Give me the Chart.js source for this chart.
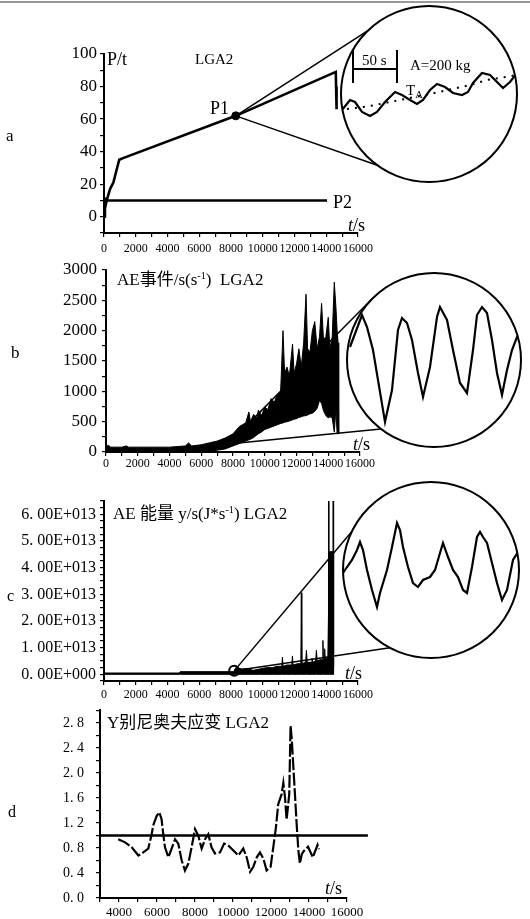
<!DOCTYPE html>
<html>
<head>
<meta charset="utf-8">
<script src="https://cdn.jsdelivr.net/npm/chart.js@4.4.1/dist/chart.umd.min.js"></script>
<style>
  html, body { margin: 0; padding: 0; background: #fff; }
  body { position: relative; width: 530px; height: 919px; overflow: hidden;
         font-family: "Liberation Serif", "DejaVu Serif", "Noto Sans CJK SC", serif; color: #000; }
  canvas { position: absolute; }
  .txt { position: absolute; white-space: nowrap; line-height: 1; }
  .topline { position: absolute; left: 0; top: 1px; width: 530px; height: 2px; background: #999; }
  sup { font-size: 0.6em; vertical-align: 0.6em; line-height: 0; }
  sub { font-size: 0.7em; vertical-align: -0.25em; line-height: 0; }
</style>
</head>
<body>
<div class="topline"></div>
<canvas id="chartA"></canvas>
<canvas id="chartB"></canvas>
<canvas id="chartC"></canvas>
<canvas id="chartD"></canvas>
<canvas id="insetA"></canvas>
<canvas id="insetB"></canvas>
<canvas id="insetC"></canvas>

<div class="txt" style="left:6px;top:127px;font-size:17px;">a</div>
<div class="txt" style="left:107px;top:50px;font-size:18px;">P/t</div>
<div class="txt" style="left:195px;top:52px;font-size:15px;">LGA2</div>
<div class="txt" style="left:210px;top:99px;font-size:18px;">P1</div>
<div class="txt" style="left:333px;top:193px;font-size:18px;">P2</div>
<div class="txt" style="left:348px;top:216px;font-size:18px;"><i>t</i>/s</div>
<div class="txt" style="left:362px;top:53px;font-size:15px;">50 s</div>
<div class="txt" style="left:410px;top:58px;font-size:15px;">A=200 kg</div>
<div class="txt" style="left:406px;top:83px;font-size:15px;">T<sub>A</sub></div>

<div class="txt" style="left:11px;top:344px;font-size:17px;">b</div>
<div class="txt" style="left:117px;top:271px;font-size:17px;">AE事件/s(s<sup>-1</sup>) &nbsp;LGA2</div>
<div class="txt" style="left:353px;top:435px;font-size:18px;"><i>t</i>/s</div>

<div class="txt" style="left:7px;top:588px;font-size:16px;">c</div>
<div class="txt" style="left:113px;top:505px;font-size:17px;">AE 能量 y/s(J*s<sup>-1</sup>) LGA2</div>
<div class="txt" style="left:345px;top:664px;font-size:18px;"><i>t</i>/s</div>

<div class="txt" style="left:8px;top:804px;font-size:16px;">d</div>
<div class="txt" style="left:107px;top:714px;font-size:17px;">Y别尼奥夫应变 LGA2</div>
<div class="txt" style="left:325px;top:879px;font-size:18px;"><i>t</i>/s</div>

<script>
const PAGE_W = 530;

// ---- a: load (t) against time (s)
const p1Time = [0, 60, 170, 380, 590, 800, 960, 1200, 8300, 14600, 14620, 14650];
const p1Load = [0, 5, 10, 17, 21, 29, 35, 36, 62, 89, 80, 66];
const p2Time = [0, 14050];
const p2Load = [10, 10];
const p1Mark = [8300, 62];

// inset a: offsets from the circle centre, load wave and its trend
const insetATime = [-87, -79, -74, -67, -59, -52, -44, -34, -27, -19, -12, -6, 1, 8, 16, 24, 33, 39, 44, 53, 61, 68, 74, 81, 88];
const insetALoad = [-16, -6, -8, -18, -22, -18, -8, 2, -1, -6, -10, -6, 4, 10, 7, 1, -1, 2, 11, 21, 19, 12, 6, 12, 21];
const insetATrendTime = [-82, -59, -39, -19, 1, 28, 41, 58, 88];
const insetATrend = [-15, -12, -8, -4, 0, 6, 9, 14, 19];
const scaleBarX = [-76, -32];
const scaleBarY = [11, 25, 44];

// ---- b: AE events per second, upper / lower edge of the dense trace
const bTime = [0, 150, 300, 1000, 1300, 1400, 2000, 3000, 4000, 5000,
  5200, 5400, 6000, 6500, 7000, 7500, 8000, 8400, 8800, 9000,
  9100, 9300, 9500, 9600, 9800, 10000, 10200, 10400, 10600, 10800,
  11000, 11150, 11250, 11400, 11550, 11750, 11850, 12000, 12150, 12300,
  12450, 12600, 12700, 12850, 13000, 13150, 13300, 13450, 13580, 13700,
  13850, 14000, 14100, 14250, 14380, 14480, 14560, 14620, 14660];
const bUpper = [90, 110, 80, 80, 100, 80, 80, 80, 80, 100,
  150, 100, 120, 150, 180, 230, 300, 420, 480, 660,
  500, 620, 560, 690, 600, 740, 700, 880, 820, 950,
  1000, 2000, 1300, 1400, 1250, 1780, 1300, 1450, 1700, 1400,
  1800, 2600, 1700, 1650, 2000, 2150, 1700, 1900, 2450, 1850,
  1900, 2220, 1700, 1900, 2800, 2400, 2000, 1800, 300];
const bLower = [0, 0, 0, 0, 0, 0, 0, 0, 0, 0,
  0, 0, 0, 10, 30, 50, 100, 140, 180, 200,
  210, 240, 280, 300, 330, 370, 390, 410, 430, 450,
  470, 480, 490, 500, 510, 530, 540, 550, 570, 580,
  595, 600, 610, 630, 640, 670, 720, 850, 800, 680,
  600, 560, 580, 560, 330, 700, 300, 300, 300];
const bLinkFrom = [7700, 130];

const insetBTime = [-84, -72, -67, -61, -56, -49, -42, -36, -32, -27, -22, -16, -11, -4, 3, 6, 13, 19, 26, 33, 39, 43, 48, 53, 58, 63, 68, 73, 78, 83, 87];
const insetBValue = [13, 45, 33, 10, -20, -62, -30, 30, 42, 37, 20, -13, -37, -7, 43, 53, 40, 10, -23, -33, 10, 45, 53, 47, 20, -13, -35, -10, 10, 23, 20];

// ---- c: AE energy (J/s)
const cTime = [0, 4750, 4800, 8200, 8300, 8700, 9000, 9400, 9800, 10200,
  10600, 10900, 11200, 11240, 11280, 11500, 11830, 11870, 11910, 12200,
  12400, 12430, 12460, 12700, 12750, 12800, 13050, 13100, 13150, 13330,
  13380, 13430, 13600, 13760, 13790, 13820, 13870, 13900, 13930, 14100,
  14200, 14440, 14460];
const cUpper = [0.05e13, 0.05e13, 0.1e13, 0.1e13, 0.25e13, 0.2e13, 0.22e13, 0.15e13, 0.2e13, 0.25e13,
  0.25e13, 0.3e13, 0.3e13, 0.65e13, 0.3e13, 0.35e13, 0.35e13, 0.69e13, 0.35e13, 0.4e13,
  0.4e13, 3.06e13, 0.4e13, 0.45e13, 0.9e13, 0.45e13, 0.45e13, 0.6e13, 0.45e13, 0.5e13,
  0.9e13, 0.5e13, 0.55e13, 0.55e13, 1.27e13, 0.55e13, 0.6e13, 0.96e13, 0.6e13, 0.6e13,
  4.6e13, 4.6e13, 0];
const cLower = cTime.map(() => 0);
const cSpikeTime = [14150, 14160, 14440, 14450];
const cSpikeValue = [0.3e13, 7e13, 7e13, 0.3e13];
const cMark = [8200, 0.13e13];

const insetCTime = [-88, -84, -79, -74, -71, -68, -64, -59, -54, -51, -44, -39, -34, -31, -28, -23, -18, -13, -8, -1, 4, 9, 12, 17, 22, 27, 32, 36, 41, 46, 49, 52, 56, 61, 66, 71, 76, 82, 87, 91];
const insetCValue = [-3, 3, 10, 20, 28, 20, 0, -20, -37, -23, 0, 23, 47, 40, 23, 3, -13, -17, -10, -7, 0, 17, 27, 13, 0, -7, -20, -23, 3, 33, 38, 33, 27, 7, -13, -30, -20, 10, 18, 20];

// ---- d: Benioff strain
const dTime = [3960, 4320, 4670, 5020, 5280, 5540, 5720, 5800, 5980, 6120,
  6240, 6330, 6420, 6600, 6770, 6950, 7120, 7300, 7470, 7650,
  7820, 8000, 8170, 8350, 8530, 8700, 8870, 9050, 9320, 9530,
  9750, 10020, 10280, 10540, 10720, 10900, 11070, 11250, 11420, 11600,
  11770, 11980, 12120, 12260, 12380, 12560, 12650, 12740, 12820, 12960,
  13030, 13090, 13170, 13260, 13350, 13440, 13520, 13620, 13720, 13950,
  14200, 14450, 14520];
const dStrain = [0.94, 0.89, 0.81, 0.68, 0.73, 0.79, 1.02, 1.16, 1.31, 1.37,
  1.26, 1.02, 0.81, 0.65, 0.79, 0.94, 0.87, 0.60, 0.44, 0.55,
  0.81, 1.10, 1.00, 0.79, 0.94, 1.02, 0.81, 0.71, 0.73, 0.87,
  0.84, 0.76, 0.68, 0.79, 0.65, 0.42, 0.50, 0.65, 0.73, 0.63,
  0.44, 0.50, 0.81, 1.13, 1.50, 1.66, 1.84, 1.60, 1.25, 1.66,
  2.75, 2.55, 2.13, 1.66, 1.18, 0.76, 0.55, 0.70, 0.75, 0.82,
  0.65, 0.85, 0.78];
const dRefTime = [3000, 17100];
const dRefValue = [1, 1];

// ---------- layout
const panelA = { id: 'chartA', top: 20, height: 250, area: { left: 104, right: 358, top: 54, bottom: 233 } };
const panelB = { id: 'chartB', top: 240, height: 240, area: { left: 106, right: 360, top: 270, bottom: 452 } };
const panelC = { id: 'chartC', top: 480, height: 220, area: { left: 104, right: 358, top: 501, bottom: 681 } };
const panelD = { id: 'chartD', top: 690, height: 229, area: { left: 100, right: 347, top: 708, bottom: 898 } };

const circleA = { cx: 429, cy: 94, r: 88 };
const circleB = { cx: 434, cy: 360, r: 87 };
const circleC = { cx: 431, cy: 570, r: 88 };

function pts(xs, ys) {
    return xs.map((x, i) => ({ x: x, y: ys[i] }));
}

function setupCanvas(id, left, top, w, h) {
    const c = document.getElementById(id);
    c.width = w; c.height = h;
    c.style.left = left + 'px'; c.style.top = top + 'px';
    c.style.width = w + 'px'; c.style.height = h + 'px';
    return c;
}

function axis(extra) {
    return Object.assign({
        type: 'linear',
        border: { display: true, color: '#000', width: 2 },
        grid: { drawOnChartArea: false, drawTicks: true, tickLength: 4, color: '#000', lineWidth: 1.2 }
    }, extra);
}

function mainOptions(p, x, y) {
    return {
        responsive: false,
        animation: false,
        events: [],
        layout: { padding: { top: p.area.top - p.top, right: PAGE_W - p.area.right, bottom: 0, left: 0 } },
        plugins: { legend: { display: false }, tooltip: { enabled: false } },
        elements: { line: { tension: 0, borderColor: '#000' }, point: { radius: 0 } },
        scales: {
            x: axis({
                min: x.min, max: x.max,
                afterFit: s => { s.height = p.top + p.height - p.area.bottom; },
                ticks: { stepSize: x.step, autoSkip: false, maxRotation: 0, minRotation: 0, includeBounds: false,
                    padding: x.pad, color: '#000', font: { family: 'Liberation Serif', size: x.size }, callback: x.label }
            }),
            y: axis({
                min: y.min, max: y.max,
                afterFit: s => { s.width = p.area.left; },
                ticks: { stepSize: y.step, autoSkip: false, includeBounds: false,
                    padding: y.pad, color: '#000', font: { family: 'Liberation Serif', size: y.size }, callback: y.label }
            })
        }
    };
}

// straight lines from a data point to the magnifier circle
function linkPlugin(p, from, circle, angles) {
    return {
        id: 'links',
        afterDatasetsDraw(chart) {
            const { ctx, scales } = chart;
            const sx = scales.x.getPixelForValue(from[0]);
            const sy = scales.y.getPixelForValue(from[1]);
            ctx.save();
            ctx.strokeStyle = '#000';
            ctx.lineWidth = 1.5;
            angles.forEach(a => {
                const t = a * Math.PI / 180;
                ctx.beginPath();
                ctx.moveTo(sx, sy);
                ctx.lineTo(circle.cx + circle.r * Math.cos(t), circle.cy + circle.r * Math.sin(t) - p.top);
                ctx.stroke();
            });
            ctx.restore();
        }
    };
}

function everyOther(v) { return v % 2000 === 0 ? String(v) : ''; }

// ---------- a
setupCanvas(panelA.id, 0, panelA.top, PAGE_W, panelA.height);
new Chart(document.getElementById(panelA.id), {
    type: 'line',
    data: {
        datasets: [
            { data: pts(p1Time, p1Load), borderWidth: 2.6 },
            { data: pts(p2Time, p2Load), borderWidth: 2.6 },
            { data: [{ x: p1Mark[0], y: p1Mark[1] }], showLine: false, pointRadius: 4, backgroundColor: '#000', borderColor: '#000' },
            { data: [{ x: 0, y: 10 }], showLine: false, pointRadius: 3, backgroundColor: '#000', borderColor: '#000' }
        ]
    },
    options: mainOptions(panelA,
        { min: 0, max: 16000, step: 1000, pad: 5, size: 12, label: everyOther },
        { min: -10, max: 100, step: 10, pad: 3, size: 17, label: v => (v >= 0 && v % 20 === 0 ? String(v) : '') }),
    plugins: [linkPlugin(panelA, p1Mark, circleA, [-134, 126])]
});

// ---------- b
setupCanvas(panelB.id, 0, panelB.top, PAGE_W, panelB.height);
new Chart(document.getElementById(panelB.id), {
    type: 'line',
    data: {
        datasets: [
            { data: pts(bTime, bLower), borderWidth: 1 },
            { data: pts(bTime, bUpper), borderWidth: 1, fill: '-1', backgroundColor: '#000' }
        ]
    },
    options: mainOptions(panelB,
        { min: 0, max: 16000, step: 1000, pad: 1, size: 12, label: everyOther },
        { min: 0, max: 3000, step: 250, pad: 5, size: 17, label: v => (v % 500 === 0 ? String(v) : '') }),
    plugins: [linkPlugin(panelB, bLinkFrom, circleB, [-135.5, 127.6])]
});

// ---------- c
function energyLabel(v) {
    const m = v / 1e13;
    if (Math.abs(m - Math.round(m)) > 1e-6) return '';
    const k = Math.round(m);
    if (k < 0) return '';
    return k === 0 ? '0. 00E+000' : k + '. 00E+013';
}
setupCanvas(panelC.id, 0, panelC.top, PAGE_W, panelC.height);
new Chart(document.getElementById(panelC.id), {
    type: 'line',
    data: {
        datasets: [
            { data: pts(cTime, cLower), borderWidth: 1 },
            { data: pts(cTime, cUpper), borderWidth: 1, fill: '-1', backgroundColor: '#000' },
            { data: pts(cSpikeTime, cSpikeValue), borderWidth: 1.6 },
            { data: [{ x: cMark[0], y: cMark[1] }], showLine: false, pointRadius: 5, pointBorderWidth: 2,
              backgroundColor: 'rgba(0,0,0,0)', borderColor: '#000' }
        ]
    },
    options: mainOptions(panelC,
        { min: 0, max: 16000, step: 1000, pad: 3, size: 12, label: everyOther },
        { min: -0.25e13, max: 6.5e13, step: 0.25e13, pad: 4, size: 16, label: energyLabel }),
    plugins: [linkPlugin(panelC, cMark, circleC, [-153.8, 117.8])]
});

// ---------- d
function strainLabel(v) {
    const t = Math.round(v * 10);
    if (t % 4 !== 0) return '';
    return Math.floor(t / 10) + '. ' + (t % 10);
}
setupCanvas(panelD.id, 0, panelD.top, PAGE_W, panelD.height);
new Chart(document.getElementById(panelD.id), {
    type: 'line',
    data: {
        datasets: [
            { data: pts(dTime, dStrain), borderWidth: 2.2, borderDash: [13, 2.5] },
            { data: pts(dRefTime, dRefValue), borderWidth: 2.6, clip: false }
        ]
    },
    options: mainOptions(panelD,
        { min: 3000, max: 16000, step: 1000, pad: 3, size: 13, label: v => (v >= 4000 && v % 2000 === 0 ? String(v) : '') },
        { min: 0, max: 3, step: 0.2, pad: 12, size: 14, label: strainLabel })
});

// ---------- magnifier insets
function makeInset(id, circle, datasets) {
    const m = 4;
    const size = 2 * circle.r + 2 * m;
    setupCanvas(id, circle.cx - circle.r - m, circle.cy - circle.r - m, size, size);
    const lim = circle.r + m;
    new Chart(document.getElementById(id), {
        type: 'line',
        data: { datasets: datasets },
        options: {
            responsive: false,
            animation: false,
            events: [],
            layout: { padding: 0 },
            plugins: { legend: { display: false }, tooltip: { enabled: false } },
            elements: { line: { tension: 0, borderColor: '#000' }, point: { radius: 0 } },
            scales: {
                x: { type: 'linear', display: false, min: -lim, max: lim },
                y: { type: 'linear', display: false, min: -lim, max: lim }
            }
        },
        plugins: [{
            id: 'lens',
            beforeDatasetsDraw(chart) {
                const { ctx, scales } = chart;
                const x0 = scales.x.getPixelForValue(0), y0 = scales.y.getPixelForValue(0);
                ctx.save();
                ctx.beginPath();
                ctx.arc(x0, y0, circle.r, 0, Math.PI * 2);
                ctx.fillStyle = '#fff';
                ctx.fill();
                ctx.clip();
            },
            afterDatasetsDraw(chart) {
                const { ctx, scales } = chart;
                ctx.restore();
                const x0 = scales.x.getPixelForValue(0), y0 = scales.y.getPixelForValue(0);
                ctx.save();
                ctx.beginPath();
                ctx.arc(x0, y0, circle.r, 0, Math.PI * 2);
                ctx.strokeStyle = '#000';
                ctx.lineWidth = 2;
                ctx.stroke();
                ctx.restore();
            }
        }]
    });
}

makeInset('insetA', circleA, [
    { data: pts(insetATime, insetALoad), borderWidth: 2.2 },
    { data: pts(insetATrendTime, insetATrend), borderWidth: 2, borderDash: [2, 6] },
    { data: [{ x: scaleBarX[0], y: scaleBarY[0] }, { x: scaleBarX[0], y: scaleBarY[2] }], borderWidth: 2 },
    { data: [{ x: scaleBarX[0], y: scaleBarY[1] }, { x: scaleBarX[1], y: scaleBarY[1] }], borderWidth: 2 },
    { data: [{ x: scaleBarX[1], y: scaleBarY[0] }, { x: scaleBarX[1], y: scaleBarY[2] }], borderWidth: 2 }
]);
makeInset('insetB', circleB, [
    { data: pts(insetBTime, insetBValue), borderWidth: 2.2 }
]);
makeInset('insetC', circleC, [
    { data: pts(insetCTime, insetCValue), borderWidth: 2.2 }
]);
</script>
</body>
</html>
